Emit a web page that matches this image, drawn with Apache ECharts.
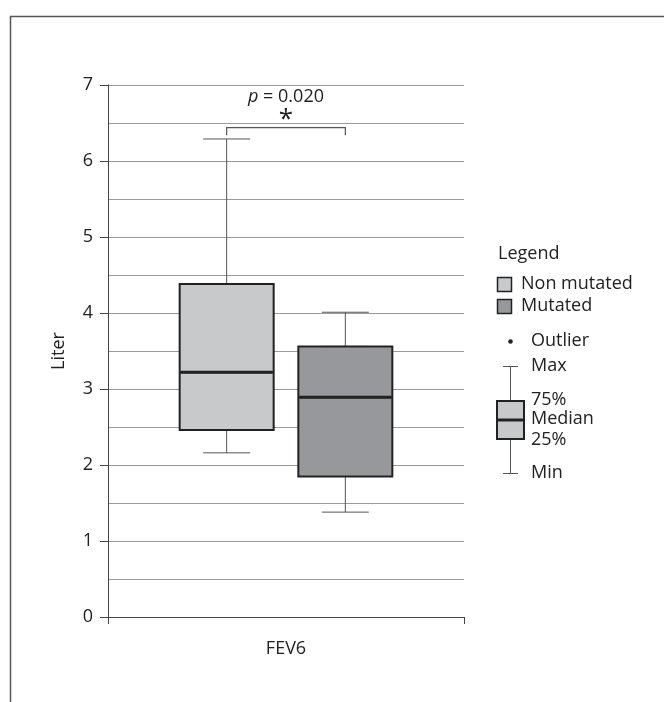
<!DOCTYPE html>
<html><head><meta charset="utf-8">
<script src="https://cdn.jsdelivr.net/npm/echarts@6/dist/echarts.min.js"></script>
<style>html,body{margin:0;padding:0;background:#fff}#c{width:664px;height:702px}</style>
</head><body><div id="c"></div>
<script>
// ---- data ----
const categories = ['FEV6'];
const groups = ['Non mutated', 'Mutated'];
// [min, Q1, median, Q3, max]
const nonMutated = [2.16, 2.46, 3.22, 4.38, 6.29];
const mutated = [1.38, 1.85, 2.89, 3.56, 4.01];
const yMin = 0, yMax = 7, yStep = 1;
const pValue = '0.020';
const bracketLevel = [6.34, 6.44];
const legendTitle = 'Legend';
const schematicLabels = ['Outlier', 'Max', '75%', 'Median', '25%', 'Min'];

const groupColors = ['#c8c9cb', '#97989b'];
const FONT = '"Open Sans", "Noto Sans", sans-serif';
const FS = 18;
const slots = [' ', groups[0], groups[1], '  '];
const stats = [nonMutated, mutated];

const chart = echarts.init(document.getElementById('c'), null, {renderer: 'canvas'});

const hiddenX = () => ({type: 'category', gridIndex: 0, data: slots, boundaryGap: false, show: false});

chart.setOption({
  animation: false,
  backgroundColor: '#fff',
  textStyle: {fontFamily: FONT},
  grid: {left: 108, right: 200, top: 85, bottom: 85, containLabel: false},
  xAxis: [
    {
      type: 'category', data: categories, boundaryGap: true,
      axisLine: {lineStyle: {color: '#444', width: 1}},
      axisTick: {show: true, length: 7, interval: 0, lineStyle: {color: '#444'}},
      axisLabel: {color: '#222', fontSize: FS, margin: 23, fontFamily: FONT},
      splitLine: {show: false}
    },
    hiddenX(), hiddenX(), hiddenX()
  ],
  yAxis: {
    type: 'value', min: yMin, max: yMax, interval: yStep,
    name: 'Liter', nameLocation: 'middle', nameGap: 40,
    nameTextStyle: {color: '#222', fontSize: FS, fontFamily: FONT},
    axisLine: {show: true, lineStyle: {color: '#444', width: 1}},
    axisTick: {show: true, length: 8, lineStyle: {color: '#444'}},
    axisLabel: {color: '#222', fontSize: FS, margin: 15, fontFamily: FONT},
    splitLine: {show: true, lineStyle: {color: '#9a9a9a', width: 1}},
    minorTick: {show: false, splitNumber: 2},
    minorSplitLine: {show: true, lineStyle: {color: '#9a9a9a', width: 1}}
  },
  series: [
    {
      name: 'whiskers', type: 'boxplot', xAxisIndex: 1, yAxisIndex: 0,
      boxWidth: [47, 47], silent: true,
      encode: {x: 0, y: [1, 2, 3, 4, 5]},
      itemStyle: {color: 'rgba(0,0,0,0)', borderColor: '#555', borderWidth: 1},
      data: stats.map((s, i) => [i + 1].concat(s))
    },
    {
      name: 'boxes', type: 'boxplot', xAxisIndex: 2, yAxisIndex: 0,
      boxWidth: [94, 94], silent: true,
      encode: {x: 0, y: [1, 2, 3, 4, 5]},
      itemStyle: {borderColor: '#222', borderWidth: 2},
      data: stats.map((s, i) => ({
        value: [i + 1, s[1], s[1], s[2], s[3], s[3]],
        itemStyle: {color: groupColors[i], borderColor: '#222', borderWidth: 2}
      }))
    },
    {
      name: 'medians', type: 'boxplot', xAxisIndex: 3, yAxisIndex: 0,
      boxWidth: [92, 92], silent: true,
      encode: {x: 0, y: [1, 2, 3, 4, 5]},
      itemStyle: {color: 'rgba(0,0,0,0)', borderColor: '#222', borderWidth: 3},
      data: stats.map((s, i) => [i + 1, s[2], s[2], s[2], s[2], s[2]])
    }
  ]
});

// ---- annotations & legend ----
const x1 = chart.convertToPixel({xAxisIndex: 1}, 1);
const x2 = chart.convertToPixel({xAxisIndex: 1}, 2);
const yLow = chart.convertToPixel({yAxisIndex: 0}, bracketLevel[0]);
const yHigh = chart.convertToPixel({yAxisIndex: 0}, bracketLevel[1]);
const xm = (x1 + x2) / 2;

const txt = (x, y, text) => ({
  type: 'text', x: x, y: y,
  style: {text: text, fill: '#222', font: FS + 'px ' + FONT, textVerticalAlign: 'middle', textAlign: 'left'}
});

const lx = 497, lw = 27, lcx = 510.5, ltx = 531;
const graphics = [
  // frame
  {type: 'polyline', shape: {points: [[10.5, 702], [10.5, 16.5], [664, 16.5]]}, style: {stroke: '#555', lineWidth: 1.5, fill: null}},
  // bracket
  {type: 'polyline', shape: {points: [[x1, yLow], [x1, yHigh], [x2, yHigh], [x2, yLow]]}, style: {stroke: '#555', lineWidth: 1.2, fill: null}},
  {type: 'text', x: xm, y: yHigh - 8, style: {text: '*', fill: '#222', font: '26px ' + FONT, textAlign: 'center', textVerticalAlign: 'middle'}},
  {type: 'text', x: xm, y: yHigh - 31, style: {
    text: '{i|p} = ' + pValue, textAlign: 'center', textVerticalAlign: 'middle',
    fill: '#222', font: FS + 'px ' + FONT,
    rich: {i: {fontStyle: 'italic', fontSize: FS, fontFamily: FONT, fill: '#222'}}
  }},
  // legend
  txt(498, 254, legendTitle),
  {type: 'rect', shape: {x: 497.5, y: 277.5, width: 14, height: 14}, style: {fill: groupColors[0], stroke: '#222', lineWidth: 1.5}},
  txt(521, 284, groups[0]),
  {type: 'rect', shape: {x: 497.5, y: 299.5, width: 14, height: 14}, style: {fill: groupColors[1], stroke: '#222', lineWidth: 1.5}},
  txt(521, 306, groups[1]),
  // schematic
  {type: 'circle', shape: {cx: lcx, cy: 341.5, r: 2.3}, style: {fill: '#222'}},
  {type: 'line', shape: {x1: lcx, y1: 366.5, x2: lcx, y2: 473.5}, style: {stroke: '#555', lineWidth: 1}},
  {type: 'line', shape: {x1: 503, y1: 366.5, x2: 518, y2: 366.5}, style: {stroke: '#555', lineWidth: 1}},
  {type: 'line', shape: {x1: 503, y1: 473.5, x2: 518, y2: 473.5}, style: {stroke: '#555', lineWidth: 1}},
  {type: 'rect', shape: {x: lx, y: 401, width: lw, height: 38}, style: {fill: groupColors[0], stroke: '#222', lineWidth: 2}},
  {type: 'line', shape: {x1: lx, y1: 420, x2: lx + lw, y2: 420}, style: {stroke: '#222', lineWidth: 3}},
  txt(ltx, 341, schematicLabels[0]),
  txt(ltx, 366, schematicLabels[1]),
  txt(ltx, 400, schematicLabels[2]),
  txt(ltx, 419, schematicLabels[3]),
  txt(ltx, 440, schematicLabels[4]),
  txt(ltx, 473, schematicLabels[5])
];
chart.setOption({graphic: graphics});
</script></body></html>
